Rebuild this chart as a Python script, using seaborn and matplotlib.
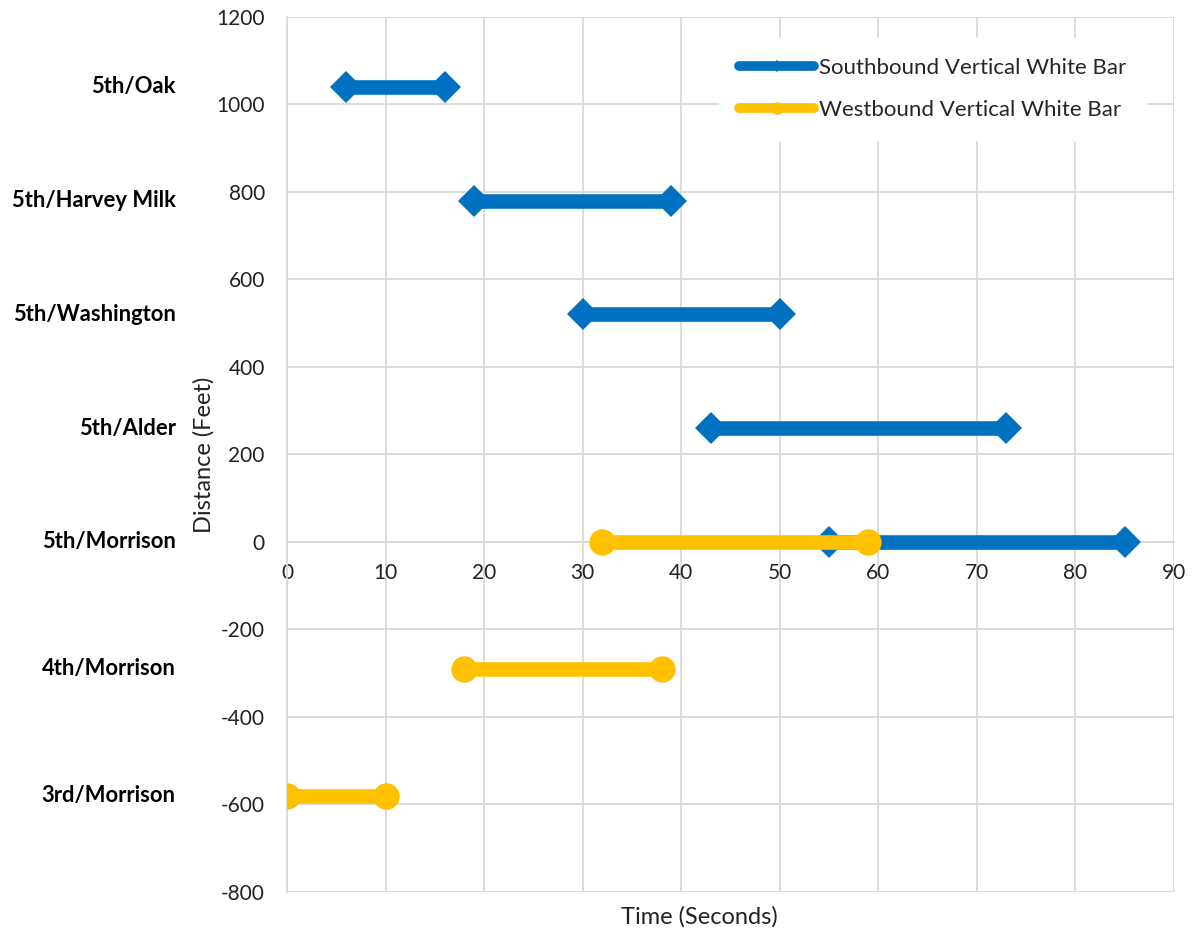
import pandas as pd
import matplotlib
matplotlib.use("Agg")
import matplotlib.pyplot as plt
import seaborn as sns
from matplotlib.lines import Line2D

# intersections (label, distance in feet)
places = ["5th/Oak", "5th/Harvey Milk", "5th/Washington", "5th/Alder",
          "5th/Morrison", "4th/Morrison", "3rd/Morrison"]
place_y = [1040, 780, 520, 260, 0, -290, -580]

# southbound vertical white bar: start/end time at each intersection
sb_y = [1040, 780, 520, 260, 0]
sb_start = [6, 19, 30, 43, 55]
sb_end = [16, 39, 50, 73, 85]

# westbound vertical white bar
wb_y = [0, -290, -580]
wb_start = [32, 18, 0]
wb_end = [59, 38, 10]

BLUE = "#0070C0"
GOLD = "#FFC000"


def segments(ys, starts, ends):
    rows = []
    for i, (y, a, b) in enumerate(zip(ys, starts, ends)):
        rows.append({"seg": i, "t": a, "d": y})
        rows.append({"seg": i, "t": b, "d": y})
    return pd.DataFrame(rows)


sb = segments(sb_y, sb_start, sb_end)
wb = segments(wb_y, wb_start, wb_end)

sns.set_theme(style="white")
plt.rcParams["font.family"] = ["Lato", "DejaVu Sans"]
plt.rcParams["axes.unicode_minus"] = False

fig = plt.figure(figsize=(11.96, 9.34), dpi=100)
ax = fig.add_axes([0.24, 0.045, 0.7416, 0.9368])

sns.lineplot(data=sb, x="t", y="d", units="seg", estimator=None, color=BLUE,
             lw=10.5, marker="D", markersize=16, markeredgewidth=0, ax=ax,
             legend=False, zorder=3)
sns.lineplot(data=wb, x="t", y="d", units="seg", estimator=None, color=GOLD,
             lw=10.5, marker="o", markersize=19, markeredgewidth=0, ax=ax,
             legend=False, zorder=4)

ax.set_xlim(0, 90)
ax.set_ylim(-800, 1200)
ax.set_xticks(range(0, 91, 10))
ax.set_yticks(range(-800, 1201, 200))
ax.grid(True, color="#d9d9d9", lw=1.3)
ax.set_axisbelow(True)
for side in ["top", "right"]:
    ax.spines[side].set_visible(False)
ax.spines["left"].set_color("#d9d9d9")
ax.spines["bottom"].set_color("#d9d9d9")
ax.spines["bottom"].set_position(("data", 0))
ax.spines["left"].set_linewidth(1.3)
ax.spines["bottom"].set_linewidth(1.3)
ax.tick_params(axis="both", length=0, labelsize=15, colors="#222222")
ax.tick_params(axis="y", pad=16)
ax.tick_params(axis="x", pad=15)

ax.set_xlabel("")
ax.set_ylabel("Distance (Feet)", fontsize=17, color="#222222")
ax.yaxis.set_label_coords(-0.082, 0.5)
fig.text(0.585, 0.018, "Time (Seconds)", ha="center", va="center",
         fontsize=17, color="#222222")

# intersection names in the left margin
for name, y in zip(places, place_y):
    ax.text(-11.3, y, name, ha="right", va="center", fontsize=15.8,
            fontweight="bold", color="black", transform=ax.transData,
            clip_on=False)

handles = [
    Line2D([0], [0], color=BLUE, lw=7, marker="D", markersize=6, markeredgewidth=0),
    Line2D([0], [0], color=GOLD, lw=7, marker="o", markersize=9, markeredgewidth=0),
]
ax.legend(handles, ["Southbound Vertical White Bar", "Westbound Vertical White Bar"],
          loc="upper right", bbox_to_anchor=(0.981, 0.989), frameon=True,
          facecolor="white", edgecolor="white", framealpha=1, fontsize=16,
          handlelength=3.4, handletextpad=0.2, labelspacing=1.0, borderpad=0.9,
          fancybox=False)

fig.savefig("out.png", dpi=100)
